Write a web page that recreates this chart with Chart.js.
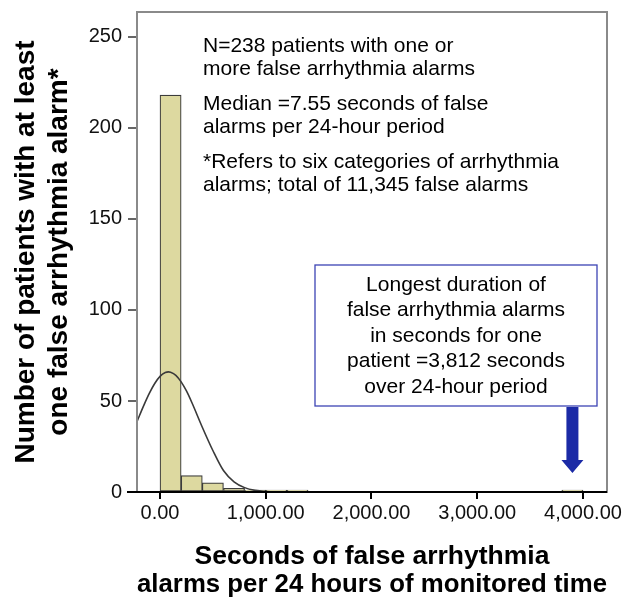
<!DOCTYPE html>
<html><head><meta charset="utf-8">
<script src="https://cdn.jsdelivr.net/npm/chart.js@4/dist/chart.umd.min.js"></script>
<style>html,body{margin:0;padding:0;background:#fff;}</style>
</head><body>
<canvas id="c" width="625" height="599"></canvas>
<script>
// Histogram bins (bin centre, seconds) and patient counts
const binCenters = [100, 300, 500, 700, 900, 1100, 1300, 3900];
const binCounts  = [218, 9, 5, 2, 1, 1, 1, 1];
// Fitted normal curve
const curveX = [-217, -150, -100, -50, 0, 50, 80, 100, 150, 200, 250, 300, 400, 500, 600, 700, 800, 900, 1000, 1200, 4227];
const curveY = [38.8, 48.0, 54.3, 59.6, 63.5, 65.6, 66.0, 65.8, 64.1, 60.5, 55.5, 49.3, 35.6, 22.8, 11.8, 5.6, 2.4, 0.9, 0.3, 0, 0];
// Axis ticks
const xTickValues = [0, 1000, 2000, 3000, 4000];
const xTickLabels = ['0.00', '1,000.00', '2,000.00', '3,000.00', '4,000.00'];
const yTickValues = [0, 50, 100, 150, 200, 250];
const yTickLabels = ['0', '50', '100', '150', '200', '250'];
// Texts
const xTitle = ['Seconds of false arrhythmia', 'alarms per 24 hours of monitored time'];
const yTitle = ['Number of patients with at least', 'one false arrhythmia alarm*'];
const noteLines = [
  ['N=238 patients with one or', 'more false arrhythmia alarms'],
  ['Median =7.55 seconds of false', 'alarms per 24-hour period'],
  ['*Refers to six categories of arrhythmia', 'alarms; total of 11,345 false alarms']
];
const boxLines = ['Longest duration of', 'false arrhythmia alarms', 'in seconds for one', 'patient =3,812 seconds', 'over 24-hour period'];
const longestBin = 3900;

const FONT = "'Liberation Sans', Arial, sans-serif";

const decor = {
  id: 'decor',
  afterDatasetsDraw(chart) {
    const {ctx, chartArea: a, scales: {x, y}} = chart;
    ctx.save();
    // frame
    ctx.strokeStyle = '#8a8a8a';
    ctx.lineWidth = 2;
    ctx.strokeRect(a.left, a.top, a.right - a.left, a.bottom - a.top);
    // x axis line
    const y0 = y.getPixelForValue(0);
    ctx.strokeStyle = '#000';
    ctx.lineWidth = 2;
    ctx.beginPath();
    ctx.moveTo(a.left - 10, y0);
    ctx.lineTo(a.right, y0);
    ctx.stroke();

    // notes
    ctx.fillStyle = '#000';
    ctx.font = '21px ' + FONT;
    ctx.textBaseline = 'middle';
    ctx.textAlign = 'left';
    const nx = a.left + 66;
    let ny = a.top + 34;
    noteLines.forEach((grp) => {
      grp.forEach((t, li) => {
        ctx.fillText(t, nx, ny + li * 23.5);
      });
      ny += 58;
    });

    // box
    const bx = 315, by = 265, bw = 282, bh = 141;
    ctx.fillStyle = '#fff';
    ctx.fillRect(bx, by, bw, bh);
    ctx.strokeStyle = '#3c44b4';
    ctx.lineWidth = 1.3;
    ctx.strokeRect(bx, by, bw, bh);
    ctx.fillStyle = '#000';
    ctx.textAlign = 'center';
    boxLines.forEach((t, i) => {
      ctx.fillText(t, bx + bw / 2, by + 20 + i * 25.5);
    });

    // arrow to longest bin
    const ax = x.getPixelForValue(longestBin);
    ctx.fillStyle = '#1b2aa6';
    ctx.beginPath();
    ctx.moveTo(ax - 6, by + bh + 1);
    ctx.lineTo(ax + 6, by + bh + 1);
    ctx.lineTo(ax + 6, 460);
    ctx.lineTo(ax + 11, 460);
    ctx.lineTo(ax, 473);
    ctx.lineTo(ax - 11, 460);
    ctx.lineTo(ax - 6, 460);
    ctx.closePath();
    ctx.fill();
    ctx.restore();
  }
};

new Chart(document.getElementById('c'), {
  type: 'bar',
  data: {
    datasets: [
      {
        type: 'line',
        order: 0,
        data: curveX.map((v, i) => ({x: v, y: curveY[i]})),
        borderColor: '#3a3a3a',
        borderWidth: 1.6,
        pointRadius: 0,
        fill: false,
        cubicInterpolationMode: 'monotone'
      },
      {
        type: 'bar',
        order: 1,
        data: binCenters.map((v, i) => ({x: v, y: binCounts[i]})),
        backgroundColor: '#ddd9a0',
        borderColor: '#3c3c3c',
        borderWidth: 1.2,
        borderSkipped: false,
        barPercentage: 1,
        categoryPercentage: 1
      }
    ]
  },
  options: {
    responsive: false,
    animation: false,
    devicePixelRatio: 1,
    layout: {padding: {left: 0, right: 18, top: 12, bottom: 0}},
    plugins: {legend: {display: false}, tooltip: {enabled: false}},
    scales: {
      x: {
        type: 'linear',
        offset: false,
        min: -217.5,
        max: 4227,
        afterBuildTicks: s => { s.ticks = xTickValues.map(v => ({value: v})); },
        afterFit: s => { s.height = 107; s.paddingLeft = 0; s.paddingRight = 0; },
        ticks: {
          callback: (v) => xTickLabels[xTickValues.indexOf(v)],
          font: {family: FONT, size: 20},
          color: '#111',
          padding: 2,
          maxRotation: 0,
          autoSkip: false
        },
        grid: {offset: false, drawOnChartArea: false, drawTicks: true, tickLength: 7, color: '#000', lineWidth: 2},
        border: {display: false},
        title: {
          display: true,
          text: xTitle,
          font: {family: FONT, size: 26.5, weight: 'bold', lineHeight: 1.057},
          color: '#000',
          padding: {top: 0, bottom: 0}
        }
      },
      y: {
        type: 'linear',
        min: 0,
        max: 263.7,
        afterBuildTicks: s => { s.ticks = yTickValues.map(v => ({value: v})); },
        afterFit: s => { s.width = 137; s.paddingTop = 0; s.paddingBottom = 0; },
        ticks: {
          callback: (v) => yTickLabels[yTickValues.indexOf(v)],
          font: {family: FONT, size: 20},
          color: '#111',
          padding: 6,
          autoSkip: false
        },
        grid: {drawOnChartArea: false, drawTicks: true, tickLength: 9, color: '#666', lineWidth: 2},
        border: {display: false},
        title: {
          display: true,
          text: yTitle,
          font: {family: FONT, size: 28, weight: 'bold', lineHeight: 1.2},
          color: '#000',
          padding: {top: 9, bottom: 0}
        }
      }
    }
  },
  plugins: [decor]
});
</script>
</body></html>
